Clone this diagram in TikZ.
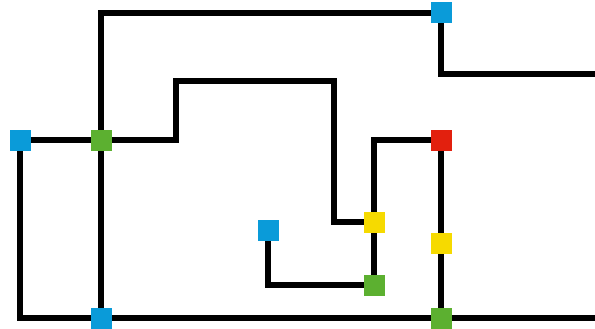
\documentclass[tikz,border=0pt]{standalone}
\usetikzlibrary{backgrounds}
\definecolor{cblue}{HTML}{0A9BD9}
\definecolor{cgreen}{HTML}{5CB030}
\definecolor{cred}{HTML}{E2200E}
\definecolor{cyellow}{HTML}{F6DA00}
\tikzset{
  sq/.style={rectangle, minimum size=21pt, inner sep=0pt, draw=none},
  wire/.style={line width=6pt, black, line cap=rect}
}
\begin{document}
\begin{tikzpicture}[x=1pt,y=-1pt]
\useasboundingbox (0,0) rectangle (595,329);
\node[sq, fill=cblue]   (bTR) at (441,13)  {};
\node[sq, fill=cblue]   (bL)  at (20,140)  {};
\node[sq, fill=cgreen]  (gL)  at (101,140) {};
\node[sq, fill=cred]    (r)   at (441,140) {};
\node[sq, fill=cyellow] (y1)  at (374,222) {};
\node[sq, fill=cblue]   (bM)  at (268,230) {};
\node[sq, fill=cyellow] (y2)  at (441,243) {};
\node[sq, fill=cgreen]  (g2)  at (374,285) {};
\node[sq, fill=cblue]   (bB)  at (101,318) {};
\node[sq, fill=cgreen]  (gB)  at (441,318) {};
\coordinate (e1) at (598,74);
\coordinate (e2) at (598,318);
\begin{pgfonlayer}{background}
\draw[wire] (bTR.center) -| (gL.center) -- (bB.center);
\draw[wire] (bTR.center) |- (e1);
\draw[wire] (bL.center) -- (gL.center) -- (176,140) -- (176,81) -- (334,81) |- (y1.center);
\draw[wire] (bL.center) |- (bB.center) -- (gB.center) -- (e2);
\draw[wire] (r.center) -| (y1.center) -- (g2.center) -| (bM.center);
\draw[wire] (r.center) -- (y2.center) -- (gB.center);
\end{pgfonlayer}
\end{tikzpicture}
\end{document}
